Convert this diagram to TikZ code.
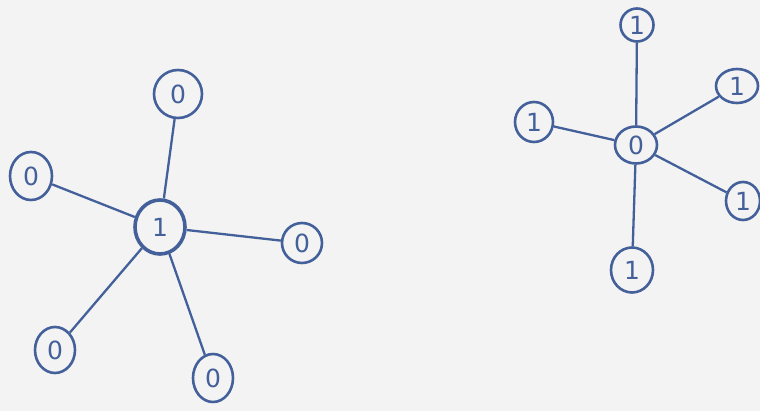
\documentclass[tikz,border=0pt]{standalone}
\usepackage{fontspec}
\setmainfont{DejaVu Sans}
\usetikzlibrary{shapes.geometric}
\definecolor{ink}{HTML}{44609A}
\definecolor{paper}{HTML}{F3F3F3}
\begin{document}
\begin{tikzpicture}[x=1pt,y=-1pt,
  vtx/.style={ellipse,draw=ink,line width=2.6pt,text=ink,inner sep=0pt,minimum width=#1,minimum height=#1,font=\fontsize{25}{25}\selectfont},
  vtx/.default=42pt,
  edge/.style={draw=ink,line width=2.3pt}]
\fill[paper] (0,0) rectangle (760,411);
\useasboundingbox (0,0) rectangle (760,411);
% left star
\node[vtx=50pt,line width=3.6pt,minimum height=54pt] (c1) at (160,227) {1};
\node[vtx=48pt] (a1) at (178,94) {0};
\node[vtx=42pt,minimum height=48pt] (a2) at (31,176) {0};
\node[vtx=40pt] (a3) at (302,243) {0};
\node[vtx=40pt,minimum height=46pt] (a4) at (55,350) {0};
\node[vtx=40pt,minimum height=48pt] (a5) at (213,378) {0};
\foreach \n in {a1,a2,a3,a4,a5} \draw[edge] (c1) -- (\n);
% right star
\node[vtx=42pt,minimum height=37pt] (c2) at (636,145) {0};
\node[vtx=33pt] (b1) at (637,25) {1};
\node[vtx=42pt,minimum height=34pt] (b2) at (737,86) {1};
\node[vtx=38pt,minimum height=40pt] (b3) at (534,122) {1};
\node[vtx=34pt,minimum height=38pt] (b4) at (743,201) {1};
\node[vtx=42pt,minimum height=45pt] (b5) at (632,270) {1};
\foreach \n in {b1,b2,b3,b4,b5} \draw[edge] (c2) -- (\n);
\end{tikzpicture}
\end{document}
